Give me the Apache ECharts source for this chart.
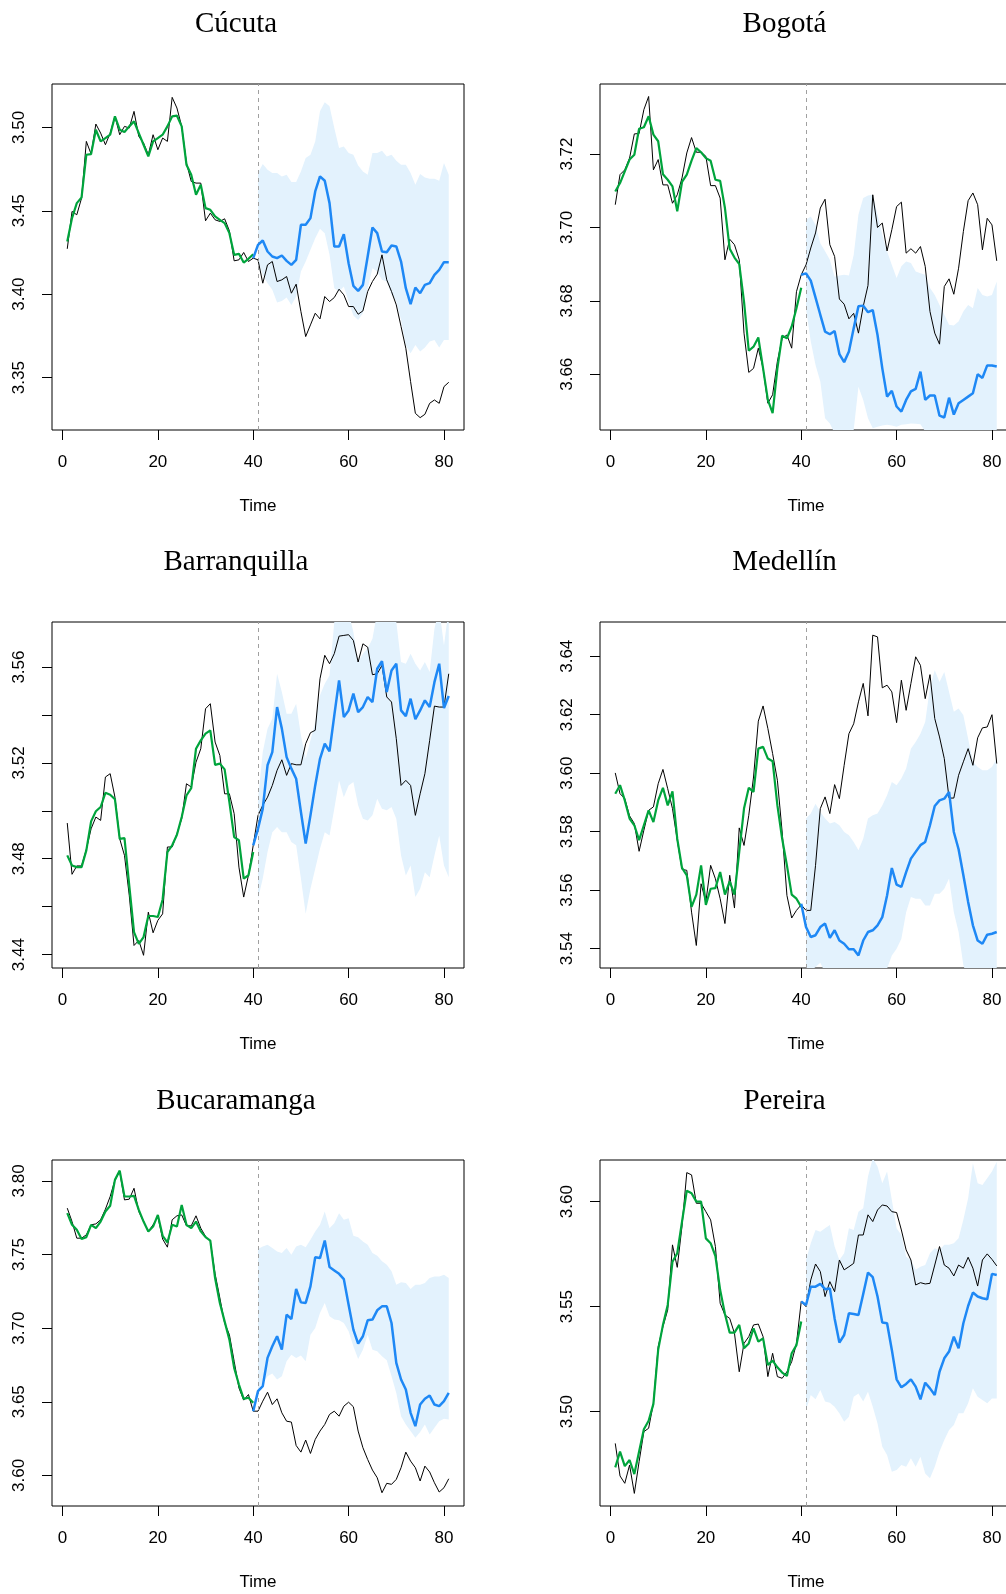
<!DOCTYPE html>
<html><head><meta charset="utf-8">
<script src="https://cdn.jsdelivr.net/npm/echarts@6/dist/echarts.min.js"></script>
<style>html,body{margin:0;padding:0;background:#fff}#c{width:1006px;height:1594px}</style>
</head><body><div id="c"></div>
<script>
// ---------------- DATA ----------------
const panelTitles = ['Cúcuta','Bogotá','Barranquilla','Medellín','Bucaramanga','Pereira'];
const xTicks = [0,20,40,60,80];
const xLabel = 'Time';

const cucutaObs = [3.4272,3.4496,3.4476,3.4576,3.4916,3.484,3.502,3.4966,3.4896,3.4966,
3.5066,3.4956,3.5006,3.4996,3.5096,3.4946,3.4906,3.4836,3.4956,3.4866,
3.4936,3.4916,3.518,3.5116,3.5006,3.4786,3.4676,3.4666,3.4666,3.444,
3.4486,3.4446,3.4436,3.4452,3.438,3.42,3.4206,3.425,3.4196,3.4216,
3.4206,3.4066,3.4176,3.4196,3.4076,3.4086,3.4106,3.4006,3.406,3.3896,
3.3746,3.3816,3.3886,3.3852,3.3986,3.3956,3.398,3.403,3.3996,3.3926,
3.3926,3.388,3.39,3.4016,3.4076,3.412,3.4236,3.4086,3.4016,3.3936,
3.3806,3.3676,3.3476,3.3286,3.326,3.328,3.3346,3.3366,3.3346,3.3446,3.3472];
const cucutaFit = [3.4316,3.4456,3.4546,3.458,3.4836,3.484,3.4986,3.4916,3.4936,3.4956,
3.5066,3.4986,3.4972,3.5006,3.5036,3.4966,3.4896,3.4826,3.4916,3.4936,
3.4956,3.5006,3.5066,3.507,3.5006,3.4776,3.4716,3.4596,3.4656,3.4516,
3.4506,3.4466,3.4446,3.4426,3.4366,3.4236,3.4242,3.419,3.4212,3.424];
const cucutaFc = [3.4216,3.4296,3.4322,3.4256,3.4226,3.4216,3.4232,3.42,3.4176,3.4206,
3.4416,3.4416,3.4456,3.4616,3.4706,3.468,3.4546,3.4286,3.4286,3.436,
3.4186,3.405,3.402,3.4056,3.4226,3.44,3.4366,3.4256,3.4252,3.4292,
3.4286,3.4196,3.4036,3.394,3.404,3.4006,3.4056,3.4066,3.4116,3.4146,3.4192,3.4192];
const cucutaHi = [3.4726,3.478,3.4746,3.4726,3.4726,3.4706,3.4716,3.4672,3.4672,3.4736,
3.4816,3.4836,3.4916,3.5096,3.515,3.5126,3.4996,3.4876,3.4886,3.4846,
3.4836,3.4772,3.4736,3.4716,3.4846,3.4846,3.486,3.4826,3.4836,3.48,
3.4776,3.4776,3.4726,3.4656,3.472,3.47,3.4692,3.4692,3.468,3.4786,3.4716];
const cucutaLo = [3.4196,3.4116,3.4066,3.4026,3.395,3.396,3.398,3.3936,3.3986,3.4136,
3.4196,3.4266,3.4336,3.4392,3.4366,3.4236,3.4036,3.4016,3.4046,3.3956,
3.3872,3.3846,3.3886,3.4036,3.4156,3.4136,3.4086,3.4076,3.3996,3.3956,
3.3846,3.3692,3.3646,3.3696,3.3656,3.368,3.3716,3.3726,3.368,3.3726,3.3726];
const cucutaYTicks = [3.35,3.40,3.45,3.50];
const cucutaYLabels = [3.35,3.40,3.45,3.50];

const bogotaObs = [3.7062,3.7144,3.7157,3.7189,3.7255,3.7256,3.7321,3.7357,3.7157,3.7185,
3.7116,3.7116,3.7066,3.7089,3.7135,3.7203,3.7245,3.7205,3.7205,3.7194,
3.7114,3.7114,3.708,3.6912,3.6968,3.6953,3.6912,3.6712,3.6605,3.6616,
3.6671,3.6616,3.6521,3.6544,3.6635,3.6698,3.6707,3.6671,3.6825,3.6871,
3.6898,3.6944,3.6985,3.7053,3.7077,3.6953,3.6921,3.6805,3.6791,3.6751,
3.6766,3.6712,3.6785,3.6842,3.7089,3.70,3.7012,3.6936,3.6994,3.7057,
3.7069,3.693,3.6942,3.693,3.6948,3.6894,3.6771,3.6712,3.6682,3.6839,
3.686,3.6818,3.6889,3.6989,3.7073,3.7094,3.7062,3.6939,3.7025,3.7007,3.6909];
const bogotaFit = [3.7098,3.7121,3.7153,3.7185,3.7198,3.7269,3.7273,3.7303,3.7253,3.7235,
3.7145,3.713,3.7112,3.7044,3.7124,3.7144,3.7182,3.7216,3.7205,3.7189,
3.7182,3.713,3.7127,3.7053,3.6942,3.6918,3.69,3.6798,3.6664,3.6675,
3.67,3.6616,3.653,3.6494,3.6616,3.6705,3.6698,3.673,3.678,3.6836];
const bogotaFc = [3.6871,3.6875,3.6855,3.6809,3.6762,3.6716,3.6709,3.6718,3.6655,3.6633,
3.6662,3.6725,3.6785,3.6787,3.6769,3.6775,3.6707,3.6616,3.6539,3.6555,
3.6512,3.6498,3.653,3.6553,3.656,3.6607,3.653,3.6542,3.6542,3.6487,
3.6482,3.6536,3.649,3.6521,3.653,3.6539,3.6548,3.66,3.659,3.6624,3.6624,3.6621];
const bogotaHi = [3.7021,3.703,3.7007,3.6957,3.6935,3.6912,3.6866,3.6869,3.6871,3.6869,
3.6925,3.7035,3.708,3.7087,3.7089,3.7035,3.698,3.6935,3.6898,3.6862,
3.6894,3.6907,3.6903,3.688,3.6875,3.6871,3.6835,3.6816,3.6789,3.6762,
3.6735,3.6733,3.6744,3.6771,3.6789,3.678,3.6835,3.6816,3.6812,3.6816,3.6853];
const bogotaLo = [3.678,3.6689,3.6625,3.658,3.648,3.6466,3.6439,3.643,3.6435,3.6417,
3.6448,3.6566,3.653,3.648,3.6453,3.6457,3.646,3.6462,3.646,3.6457,
3.6462,3.6464,3.6466,3.6465,3.6464,3.6444,3.643,3.6421,3.6416,3.6425,
3.6435,3.643,3.6425,3.6421,3.6416,3.6421,3.6425,3.643,3.6425,3.6421,3.6425];
const bogotaYTicks = [3.66,3.68,3.70,3.72];
const bogotaYLabels = [3.66,3.68,3.70,3.72];

const barranquillaObs = [3.4949,3.4735,3.4770,3.4770,3.4839,3.4925,3.4974,3.496,3.5141,3.5155,
3.5057,3.4883,3.4814,3.4647,3.4438,3.4459,3.4397,3.4577,3.4491,3.4543,
3.4570,3.4849,3.4849,3.4904,3.4967,3.5113,3.5099,3.5203,3.5259,3.5426,
3.5447,3.5287,3.5231,3.5071,3.5071,3.4988,3.4765,3.4640,3.4731,3.4856,
3.4981,3.5023,3.5057,3.5106,3.5169,3.5213,3.5148,3.5197,3.5192,3.5192,
3.5280,3.5326,3.5336,3.5551,3.5649,3.5614,3.5656,3.5729,3.5732,3.5735,
3.5711,3.5621,3.5697,3.5683,3.5568,3.5572,3.5607,3.5475,3.5454,3.5301,
3.5106,3.5127,3.5106,3.4981,3.5071,3.5155,3.5294,3.5437,3.5433,3.5433,3.5572];
const barranquillaFit = [3.4814,3.4772,3.4765,3.4765,3.4835,3.4956,3.4998,3.5016,3.5075,3.5067,
3.5048,3.4883,3.4886,3.4689,3.4494,3.4445,3.4473,3.4561,3.4561,3.4557,
3.463,3.4828,3.4856,3.49,3.4974,3.5064,3.5095,3.5259,3.5294,3.5322,
3.5336,3.5192,3.5197,3.5173,3.5036,3.489,3.4877,3.4717,3.4731,3.4828];
const barranquillaFc = [3.4856,3.4925,3.5009,3.5190,3.5245,3.5433,3.5343,3.5224,3.5176,3.5134,
3.4995,3.4863,3.4981,3.5106,3.5217,3.5280,3.5248,3.5398,3.5544,3.5391,
3.5419,3.5489,3.5412,3.5433,3.5475,3.5454,3.5593,3.5624,3.5496,3.5586,
3.5614,3.5419,3.5395,3.5468,3.5382,3.5419,3.5461,3.5433,3.5537,3.5614,3.5429,3.5479];
const barranquillaHi = [3.5050,3.5245,3.5343,3.5384,3.5572,3.5496,3.5405,3.5405,3.5447,3.5315,
3.5217,3.5294,3.5370,3.5482,3.5530,3.5565,3.5788,3.5857,3.5837,3.583,
3.5746,3.5621,3.5656,3.5677,3.5718,3.583,3.5857,3.583,3.5837,3.5788,
3.5621,3.5614,3.5656,3.5614,3.5586,3.5621,3.5579,3.576,3.5844,3.569,3.5844];
const barranquillaLo = [3.4633,3.4717,3.4828,3.4911,3.4932,3.4911,3.4911,3.4870,3.4856,3.4717,
3.4570,3.4675,3.4758,3.4842,3.4911,3.4897,3.5009,3.5127,3.5057,3.5106,
3.5120,3.5023,3.4967,3.4960,3.4981,3.5050,3.5009,3.5002,3.5016,3.4967,
3.4814,3.4730,3.4772,3.4640,3.4675,3.4744,3.4723,3.4814,3.4897,3.4772,3.4723];
const barranquillaYTicks = [3.44,3.46,3.48,3.50,3.52,3.54,3.56];
const barranquillaYLabels = [3.44,3.48,3.52,3.56];

const medellinObs = [3.6001,3.5930,3.5913,3.5854,3.5828,3.5733,3.5805,3.5873,3.5885,3.5964,
3.6013,3.5947,3.5879,3.5771,3.5671,3.5668,3.5525,3.5411,3.5622,3.5560,
3.5685,3.5639,3.5571,3.5486,3.5651,3.5539,3.5813,3.5753,3.5856,3.5987,
3.6178,3.6230,3.6153,3.6067,3.5976,3.5799,3.5582,3.5505,3.5531,3.5550,
3.5531,3.5531,3.5685,3.5879,3.5919,3.5862,3.5961,3.5913,3.6027,3.6135,
3.6169,3.6244,3.6307,3.6196,3.6472,3.6466,3.6292,3.6301,3.6278,3.6173,
3.6318,3.6215,3.6307,3.6398,3.6369,3.6255,3.6337,3.6187,3.6124,3.6050,
3.5915,3.5915,3.5993,3.6039,3.6084,3.6027,3.6121,3.6155,3.6158,3.6200,3.6033];
const medellinFit = [3.5930,3.5959,3.5907,3.5845,3.5822,3.5771,3.5822,3.5873,3.5833,3.5907,
3.5950,3.5890,3.5938,3.5776,3.5676,3.5651,3.5543,3.5585,3.5685,3.5550,
3.5605,3.5607,3.5662,3.5585,3.5630,3.5585,3.5731,3.5879,3.5950,3.5936,
3.6084,3.6090,3.6050,3.6041,3.5890,3.5776,3.5685,3.5585,3.5571,3.5543];
const medellinFc = [3.5554,3.5474,3.5440,3.5446,3.5474,3.5486,3.5437,3.5463,3.5428,3.5417,
3.5398,3.5398,3.5377,3.5428,3.5457,3.5463,3.5480,3.5508,3.5582,3.5676,
3.5619,3.5611,3.5662,3.5708,3.5731,3.5754,3.5765,3.5822,3.5888,3.5907,
3.5913,3.5936,3.5799,3.5740,3.5651,3.5560,3.5480,3.5428,3.5417,3.5448,3.5451,3.5457];
const medellinHi = [3.5845,3.5862,3.5896,3.5867,3.5845,3.5828,3.5833,3.5822,3.5799,3.5788,
3.5765,3.5737,3.5776,3.5845,3.5856,3.5862,3.5890,3.5925,3.5970,3.5959,
3.5982,3.6016,3.6084,3.6107,3.6135,3.6175,3.6295,3.6352,3.6312,3.6346,
3.6278,3.6210,3.6221,3.6198,3.6118,3.6039,3.6021,3.6010,3.6010,3.6021,3.6050];
const medellinLo = [3.5320,3.5326,3.5337,3.5352,3.5318,3.5300,3.5295,3.5290,3.5285,3.5280,
3.5283,3.5286,3.5290,3.5293,3.5297,3.5300,3.5310,3.5332,3.5377,3.5400,
3.5434,3.5525,3.5577,3.5571,3.5571,3.5548,3.5548,3.5588,3.5588,3.5605,
3.5640,3.5525,3.5457,3.5343,3.5300,3.5280,3.5270,3.5270,3.5275,3.5280,3.5285];
const medellinYTicks = [3.54,3.56,3.58,3.60,3.62,3.64];
const medellinYLabels = [3.54,3.56,3.58,3.60,3.62,3.64];

const bucaramangaObs = [3.7815,3.7724,3.7611,3.7611,3.7634,3.7702,3.7708,3.7736,3.7808,3.7894,
3.8007,3.8063,3.7871,3.7876,3.7950,3.7792,3.7724,3.7657,3.7702,3.7758,
3.7605,3.7550,3.7736,3.7763,3.7769,3.7695,3.7695,3.7763,3.7679,3.7623,
3.7589,3.7369,3.7205,3.7035,3.6956,3.6775,3.6594,3.6511,3.6549,3.6436,
3.6436,3.6504,3.6565,3.6481,3.6520,3.6425,3.6368,3.6362,3.6203,3.6158,
3.6240,3.6149,3.6244,3.6301,3.6346,3.6414,3.6436,3.6402,3.6470,3.6497,
3.6466,3.6301,3.6188,3.6108,3.6036,3.5984,3.5882,3.5946,3.5939,3.5973,
3.6052,3.6158,3.6097,3.6052,3.5962,3.6063,3.6023,3.5950,3.5887,3.5916,3.5977];
const bucaramangaFit = [3.7781,3.7702,3.7668,3.7605,3.7618,3.7702,3.7679,3.7724,3.7792,3.7831,
3.8007,3.8070,3.7894,3.7894,3.7898,3.7803,3.7724,3.7657,3.7690,3.7769,
3.7627,3.7582,3.7702,3.7690,3.7837,3.7702,3.7679,3.7724,3.7657,3.7618,
3.7595,3.7340,3.7171,3.7046,3.6922,3.6730,3.6617,3.6520,3.6527,3.6493];
const bucaramangaFc = [3.6436,3.6572,3.6606,3.6798,3.6877,3.6945,3.6854,3.7092,3.7062,3.7266,
3.7175,3.7171,3.7284,3.7482,3.7476,3.7595,3.7415,3.7392,3.7369,3.7333,
3.7159,3.6990,3.6895,3.6945,3.7053,3.7058,3.7121,3.7148,3.7148,3.7035,
3.6764,3.6651,3.6583,3.6425,3.6334,3.6481,3.6520,3.6542,3.6481,3.6470,3.6504,3.6560];
const bucaramangaHi = [3.7537,3.7555,3.7566,3.7544,3.7521,3.7510,3.7544,3.7498,3.7555,3.7566,
3.7550,3.7600,3.7657,3.7702,3.7792,3.7679,3.7713,3.7781,3.7736,3.7747,
3.7627,3.7618,3.7589,3.7566,3.7510,3.7492,3.7454,3.7431,3.7386,3.7295,
3.7311,3.7306,3.7266,3.7295,3.7295,3.7306,3.7340,3.7351,3.7351,3.7363,3.7340];
const bucaramangaLo = [3.6583,3.6628,3.6673,3.6692,3.6651,3.6673,3.6775,3.6820,3.6798,3.6814,
3.6775,3.6955,3.7001,3.7103,3.7171,3.7080,3.7058,3.7053,3.7035,3.6979,
3.6877,3.6791,3.6854,3.6955,3.6854,3.6843,3.6809,3.6782,3.6673,3.6560,
3.6402,3.6346,3.6301,3.6255,3.6294,3.6346,3.6278,3.6323,3.6368,3.6384,3.6380];
const bucaramangaYTicks = [3.60,3.65,3.70,3.75,3.80];
const bucaramangaYLabels = [3.60,3.65,3.70,3.75,3.80];

const pereiraObs = [3.4849,3.4694,3.4659,3.4746,3.4611,3.4762,3.4905,3.4921,3.5040,3.5310,
3.5405,3.5484,3.5794,3.5687,3.5884,3.6138,3.6127,3.5992,3.5992,3.5952,
3.5913,3.5786,3.5516,3.5460,3.5444,3.5373,3.5190,3.5325,3.5357,3.5413,
3.5417,3.5357,3.5167,3.5278,3.5167,3.5159,3.5190,3.5238,3.5325,3.5524,
3.5500,3.5627,3.5703,3.5667,3.5548,3.5619,3.5571,3.5722,3.5675,3.5690,
3.5706,3.5841,3.5841,3.5937,3.5905,3.5960,3.5984,3.5979,3.5952,3.5948,
3.5865,3.5770,3.5722,3.5603,3.5614,3.5608,3.5611,3.5698,3.5786,3.5698,
3.5683,3.5646,3.5698,3.5683,3.5735,3.5683,3.5598,3.5722,3.5751,3.5725,3.5694];
const pereiraFit = [3.4735,3.4810,3.4741,3.4770,3.4703,3.4810,3.4916,3.4957,3.5037,3.5294,
3.5413,3.5508,3.5714,3.5754,3.5905,3.6052,3.6040,3.6000,3.6000,3.5825,
3.5802,3.5741,3.5579,3.5465,3.5376,3.5376,3.5413,3.5302,3.5325,3.5397,
3.5333,3.5349,3.5222,3.5243,3.5211,3.5186,3.5170,3.5278,3.5317,3.5429];
const pereiraFc = [3.5524,3.5508,3.5595,3.5595,3.5608,3.5583,3.5587,3.5444,3.5329,3.5365,
3.5468,3.5465,3.5460,3.5560,3.5662,3.5640,3.5548,3.5424,3.5421,3.5294,
3.5154,3.5116,3.5132,3.5154,3.5119,3.5059,3.5138,3.5111,3.5079,3.5190,
3.5254,3.5286,3.5357,3.5302,3.5421,3.5503,3.5567,3.5548,3.5540,3.5535,3.5656,3.5651];
const pereiraHi = [3.5722,3.5802,3.5865,3.5857,3.5873,3.5889,3.5786,3.5722,3.5754,3.5873,
3.5865,3.5952,3.5968,3.6119,3.6206,3.6167,3.6087,3.6143,3.6008,3.5873,
3.5841,3.5738,3.5722,3.5675,3.5690,3.5698,3.5754,3.5778,3.5770,3.5794,
3.5794,3.5802,3.5825,3.5913,3.6016,3.6183,3.6087,3.6079,3.6111,3.6143,3.6190];
const pereiraLo = [3.5008,3.5079,3.5059,3.5103,3.5048,3.5043,3.5024,3.4992,3.4952,3.4976,
3.5071,3.5087,3.5048,3.5095,3.5024,3.4944,3.4833,3.4794,3.4714,3.4722,
3.4746,3.4738,3.4778,3.4738,3.4786,3.4706,3.4683,3.4738,3.4810,3.4865,
3.4913,3.4937,3.4992,3.4992,3.5040,3.5111,3.5071,3.5056,3.5040,3.5063,3.5063];
const pereiraYTicks = [3.50,3.55,3.60];
const pereiraYLabels = [3.50,3.55,3.60];

const fitStart = 1, fcStart = 40, bandStart = 41, splitTime = 41;

// ---------------- LAYOUT / STYLE ----------------
const panelData = [
  [cucutaObs, cucutaFit, cucutaFc, cucutaLo, cucutaHi, cucutaYTicks, cucutaYLabels],
  [bogotaObs, bogotaFit, bogotaFc, bogotaLo, bogotaHi, bogotaYTicks, bogotaYLabels],
  [barranquillaObs, barranquillaFit, barranquillaFc, barranquillaLo, barranquillaHi, barranquillaYTicks, barranquillaYLabels],
  [medellinObs, medellinFit, medellinFc, medellinLo, medellinHi, medellinYTicks, medellinYLabels],
  [bucaramangaObs, bucaramangaFit, bucaramangaFc, bucaramangaLo, bucaramangaHi, bucaramangaYTicks, bucaramangaYLabels],
  [pereiraObs, pereiraFit, pereiraFc, pereiraLo, pereiraHi, pereiraYTicks, pereiraYLabels]
];
const yRanges = [[3.3186,3.5260],[3.6448,3.7391],[3.4344,3.5788],[3.5334,3.6517],[3.5792,3.8142],[3.4551,3.6198]];
const xRange = [-2.2, 84.2];
const colLeft = [52, 600];
const rowTop = [84, 622, 1160];
const gridW = 412, gridH = 346;
const titleX = [236, 784.5];
const titleY = [24, 562.5, 1101];
const SANS = '"Liberation Sans", Arial, Helvetica, sans-serif';
const SERIF = '"Liberation Serif", "Times New Roman", serif';
const C_OBS = '#000000', C_FIT = '#00A43C', C_FC = '#1E88F5', C_BAND = '#E3F2FD', C_SPLIT = '#A0A0A0';

const chart = echarts.init(document.getElementById('c'), null, {renderer: 'canvas'});
const grids = [], xAxes = [], yAxes = [], series = [], graphics = [];

panelData.forEach((pd, i) => {
  const [obs, fit, fc, lo, hi, yTicks, yLabels] = pd;
  const col = i % 2, row = Math.floor(i / 2);
  grids.push({left: colLeft[col], top: rowTop[row], width: gridW, height: gridH,
    show: true, borderColor: '#000', borderWidth: 1, backgroundColor: 'transparent',
    containLabel: false, outerBoundsMode: 'none'});
  xAxes.push({gridIndex: i, type: 'value', min: xRange[0], max: xRange[1],
    axisLine: {show: false, onZero: false},
    axisTick: {show: true, customValues: xTicks, length: 10, lineStyle: {color: '#000', width: 1}},
    axisLabel: {show: true, customValues: xTicks, margin: 24, color: '#000', fontSize: 17, fontFamily: SANS},
    splitLine: {show: false},
    name: xLabel, nameLocation: 'middle', nameGap: 68,
    nameTextStyle: {color: '#000', fontSize: 17, fontFamily: SANS}});
  yAxes.push({gridIndex: i, type: 'value', min: yRanges[i][0], max: yRanges[i][1],
    axisLine: {show: false, onZero: false},
    axisTick: {show: true, customValues: yTicks, length: 10, lineStyle: {color: '#000', width: 1}},
    axisLabel: {show: true, customValues: yLabels, rotate: 90, margin: 24, color: '#000', fontSize: 17,
      fontFamily: SANS, formatter: v => Number(v).toFixed(2)},
    splitLine: {show: false}});

  const bandRows = lo.map((v, k) => [bandStart + k, v, hi[k]]);
  series.push({type: 'custom', name: panelTitles[i] + ' band', xAxisIndex: i, yAxisIndex: i,
    silent: true, z: 1, data: bandRows, encode: {x: 0, y: [1, 2]},
    renderItem: (params, api) => {
      if (params.dataIndex !== 0) return null;
      const pts = [];
      for (let k = 0; k < bandRows.length; k++) pts.push(api.coord([bandRows[k][0], bandRows[k][2]]));
      for (let k = bandRows.length - 1; k >= 0; k--) pts.push(api.coord([bandRows[k][0], bandRows[k][1]]));
      const cs = params.coordSys;
      return {type: 'group',
        clipPath: {type: 'rect', shape: {x: cs.x, y: cs.y, width: cs.width, height: cs.height}},
        children: [{type: 'polygon', shape: {points: pts}, style: {fill: C_BAND, stroke: null}}]};
    }});
  series.push({type: 'line', name: panelTitles[i] + ' observed', xAxisIndex: i, yAxisIndex: i, z: 3,
    data: obs.map((v, k) => [1 + k, v]), showSymbol: false, symbol: 'none',
    lineStyle: {color: C_OBS, width: 1}, clip: true,
    markLine: {silent: true, symbol: ['none', 'none'], label: {show: false},
      lineStyle: {color: C_SPLIT, type: [4, 4], width: 1}, data: [{xAxis: splitTime}], animation: false}});
  series.push({type: 'line', name: panelTitles[i] + ' fitted', xAxisIndex: i, yAxisIndex: i, z: 4,
    data: fit.map((v, k) => [fitStart + k, v]), showSymbol: false, symbol: 'none',
    lineStyle: {color: C_FIT, width: 2.2}, clip: true});
  series.push({type: 'line', name: panelTitles[i] + ' forecast', xAxisIndex: i, yAxisIndex: i, z: 5,
    data: fc.map((v, k) => [fcStart + k, v]), showSymbol: false, symbol: 'none',
    lineStyle: {color: C_FC, width: 2.5}, clip: true});

  graphics.push({type: 'text', x: titleX[col], y: titleY[row], silent: true,
    style: {text: panelTitles[i], fill: '#000', font: '29px ' + SERIF,
      textAlign: 'center', textVerticalAlign: 'middle', align: 'center', verticalAlign: 'middle'}});
});

chart.setOption({
  animation: false,
  backgroundColor: '#ffffff',
  grid: grids, xAxis: xAxes, yAxis: yAxes, series: series, graphic: graphics,
  tooltip: {show: false}
});
</script>
</body></html>
